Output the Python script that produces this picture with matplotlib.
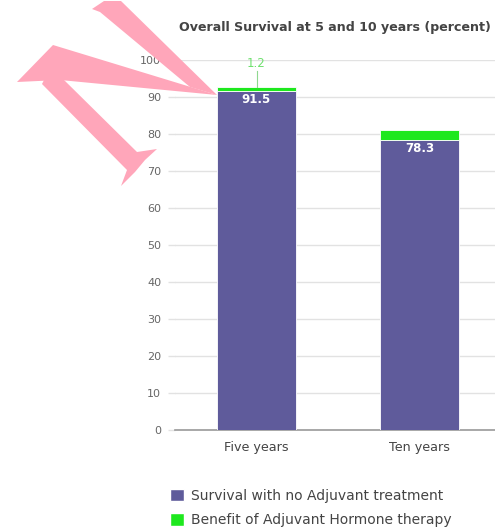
import matplotlib
matplotlib.use("Agg")
import matplotlib.pyplot as plt
from matplotlib.patches import Polygon, Patch

plt.rcParams['font.family'] = ['DejaVu Sans']

# Data
categories = ["Five years", "Ten years"]
base_survival = [91.5, 78.3]
hormone_benefit = [1.2, 2.8]
benefit_labels_shown = [True, False]
y_ticks = [0, 10, 20, 30, 40, 50, 60, 70, 80, 90, 100]
title = "Overall Survival at 5 and 10 years (percent)"
legend_labels = ["Survival with no Adjuvant treatment",
                 "Benefit of Adjuvant Hormone therapy"]

PURPLE = "#5f5b9b"
GREEN = "#1ee81e"

W, H = 495, 528
fig = plt.figure(figsize=(W / 100, H / 100), dpi=100)

def px(x, y):
    return (x / W, 1 - y / H)

left, right, top, bottom = 175, 501, 60, 430
ax = fig.add_axes([left / W, 1 - bottom / H, (right - left) / W, (bottom - top) / H])

x = list(range(len(categories)))
bar_w = 0.49
ax.bar(x, base_survival, width=bar_w, color=PURPLE, edgecolor="white", linewidth=0.6, zorder=3)
ax.bar(x, hormone_benefit, width=bar_w, bottom=base_survival, color=GREEN,
       edgecolor="white", linewidth=0.6, zorder=3)

# value labels
for xi, v in zip(x, base_survival):
    ax.text(xi, v - 0.5, f"{v}", ha="center", va="top", color="white",
            fontsize=8.5, fontweight="bold", zorder=5)
for xi, b, v, show in zip(x, base_survival, hormone_benefit, benefit_labels_shown):
    if show:
        top_v = b + v
        ax.plot([xi, xi], [top_v, top_v + 4.3], color="#8fd88f", lw=0.8, zorder=4)
        ax.text(xi, top_v + 4.6, f"{v}", ha="center", va="bottom", color="#6ee06e",
                fontsize=8.5, zorder=5)

ax.set_xlim(-0.5, len(categories) - 0.5)
ax.set_ylim(0, 100)
ax.set_yticks(y_ticks)
ax.set_yticklabels([str(t) for t in y_ticks], fontsize=8, color="#666666")
ax.set_xticks(x)
ax.set_xticklabels(categories, fontsize=9.2, color="#444444")
ax.tick_params(axis="y", length=5, width=1, color="#e2e2e2", pad=5)
ax.tick_params(axis="x", length=0, pad=8)
ax.grid(axis="y", color="#e2e2e2", lw=1, zorder=0)
for s in ["top", "right", "left"]:
    ax.spines[s].set_visible(False)
ax.spines["bottom"].set_color("#9a9a9a")
ax.spines["bottom"].set_linewidth(1.2)

fig.text(*px(335, 27), title, ha="center", va="center", fontsize=9.1,
         fontweight="bold", color="#444444")

handles = [Patch(facecolor=PURPLE, edgecolor="white"), Patch(facecolor=GREEN, edgecolor="white")]
fig.legend(handles, legend_labels, loc="upper left", bbox_to_anchor=px(163, 482),
           frameon=False, fontsize=10, handlelength=1.0, handleheight=1.0,
           handletextpad=0.5, labelspacing=0.75, borderpad=0, labelcolor="#444444")

# pink pointer drawn over the chart
PINK = "#ffa6ba"
shapes = [
    [(17, 82), (53, 45), (217, 95), (60, 80)],
    [(92, 9), (104, 1), (121, 1), (217, 95), (190, 87), (100, 12)],
    [(45, 78), (62, 78), (137, 152), (157, 149), (145, 160), (135, 172),
     (121, 186), (127, 170), (42, 84)],
]
for pts in shapes:
    fig.patches.append(Polygon([px(a, b) for a, b in pts], closed=True,
                               transform=fig.transFigure, facecolor=PINK,
                               edgecolor="none", zorder=10))

fig.savefig("out.png", dpi=100)
